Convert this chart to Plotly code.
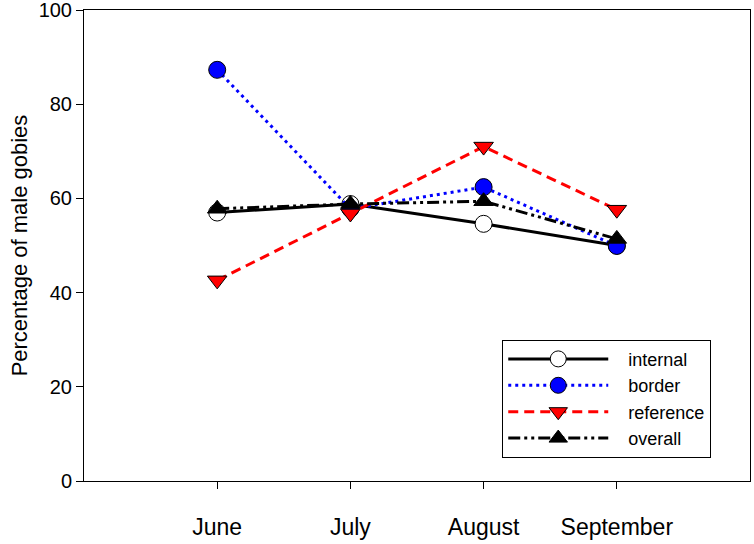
import plotly.graph_objects as go

months = ["June", "July", "August", "September"]
xpos = [1, 2, 3, 4]
internal = [57.0, 58.8, 54.6, 50.0]
border = [87.3, 57.8, 62.4, 49.9]
reference = [42.6, 56.8, 71.0, 57.6]
overall = [57.8, 58.8, 59.4, 51.4]
yticks = [0, 20, 40, 60, 80, 100]
names = ["internal", "border", "reference", "overall"]

FONT = "Arial, Liberation Sans, sans-serif"
PAD = "\u00a0\u00a0\u00a0"

fig = go.Figure()
fig.add_trace(go.Scatter(
    x=xpos, y=internal, name=PAD + names[0], mode="lines+markers",
    line=dict(color="black", width=3, dash="solid"),
    marker=dict(symbol="circle", size=17, color="white", line=dict(color="black", width=1))))
fig.add_trace(go.Scatter(
    x=xpos, y=border, name=PAD + names[1], mode="lines+markers",
    line=dict(color="#0000ff", width=3, dash="3px,4px"),
    marker=dict(symbol="circle", size=17, color="#0000ff", line=dict(color="black", width=1))))
fig.add_trace(go.Scatter(
    x=xpos, y=reference, name=PAD + names[2], mode="lines+markers",
    line=dict(color="#ff0000", width=3, dash="10px,6px"),
    marker=dict(symbol="triangle-down", size=17, color="#ff0000", line=dict(color="black", width=1))))
fig.add_trace(go.Scatter(
    x=xpos, y=overall, name=PAD + names[3], mode="lines+markers",
    line=dict(color="black", width=3, dash="12px,4px,3px,4px,3px,4px"),
    marker=dict(symbol="triangle-up", size=17, color="black", line=dict(color="black", width=1))))

fig.update_layout(
    width=754, height=544,
    margin=dict(l=84, r=4, t=10, b=57, pad=0),
    paper_bgcolor="white", plot_bgcolor="white",
    font=dict(family=FONT, color="black"),
    showlegend=True,
    legend=dict(
        x=0.628, y=0.30, xanchor="left", yanchor="top",
        bgcolor="white", bordercolor="black", borderwidth=1,
        font=dict(size=18, family=FONT, color="black"),
        itemwidth=100, tracegroupgap=0,
    ),
    xaxis=dict(
        range=[0, 5], tickmode="array", tickvals=xpos, ticktext=months,
        showgrid=False, zeroline=False,
        showline=True, linecolor="black", linewidth=1, mirror=True,
        ticks="outside", ticklen=7, tickcolor="black", tickwidth=1,
        tickfont=dict(size=23, family=FONT, color="black"),
        ticklabelstandoff=18,
    ),
    yaxis=dict(
        range=[0, 100], tickmode="array", tickvals=yticks,
        showgrid=False, zeroline=False,
        showline=True, linecolor="black", linewidth=1, mirror=True,
        ticks="outside", ticklen=7, tickcolor="black", tickwidth=1,
        tickfont=dict(size=20, family=FONT, color="black"),
        ticklabeloverflow="allow",
        automargin=False,
        title=dict(text="Percentage of male gobies", font=dict(size=22, family=FONT, color="black"), standoff=4),
    ),
)

fig.write_html("out.html")
